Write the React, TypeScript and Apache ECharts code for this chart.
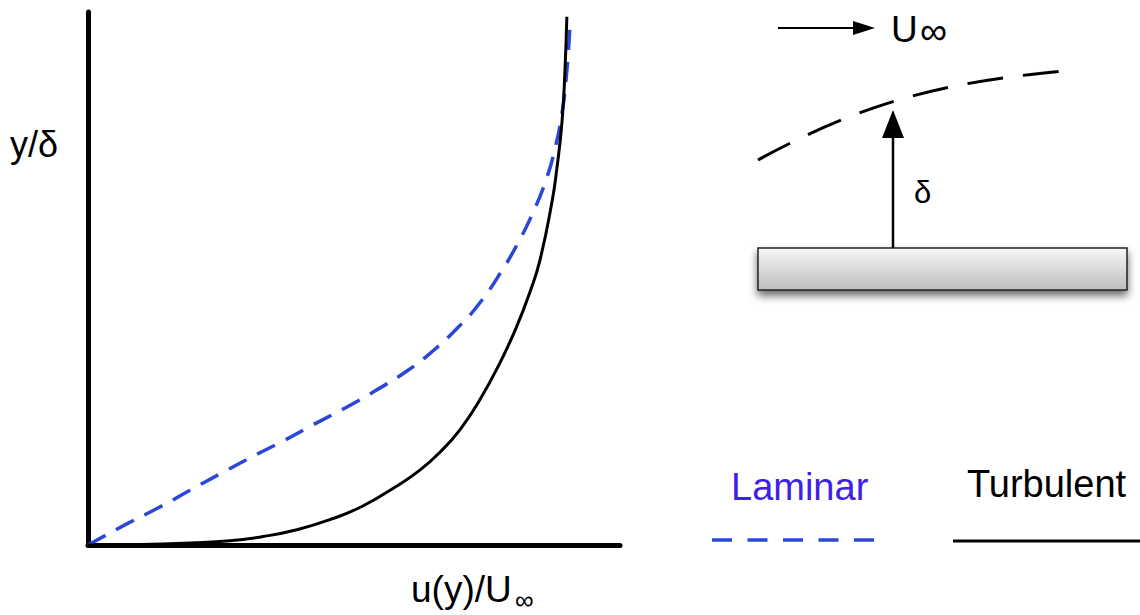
import React, { useEffect, useRef } from "react";
import * as echarts from "echarts";

// u/U∞ values (x) and y/δ values (y)
const turbulentX = [0, 0.109, 0.213, 0.296, 0.365, 0.436, 0.505, 0.574, 0.645, 0.693, 0.735, 0.777, 0.818, 0.86, 0.896, 0.923, 0.944, 0.969, 0.979, 0.99, 0.996, 1.0];
const turbulentY = [0, 0.001, 0.004, 0.008, 0.016, 0.029, 0.048, 0.074, 0.112, 0.142, 0.176, 0.219, 0.275, 0.345, 0.416, 0.48, 0.541, 0.651, 0.713, 0.804, 0.899, 1.002];

const laminarX = [0, 0.081, 0.15, 0.213, 0.28, 0.342, 0.407, 0.47, 0.537, 0.599, 0.666, 0.72, 0.772, 0.818, 0.864, 0.898, 0.929, 0.956, 0.975, 0.99, 1.0, 1.006];
const laminarY = [0, 0.04, 0.072, 0.104, 0.137, 0.167, 0.197, 0.228, 0.26, 0.292, 0.33, 0.368, 0.412, 0.459, 0.52, 0.573, 0.63, 0.691, 0.751, 0.82, 0.9, 0.977];

const xMax = 1.111;
const yMax = 1.011;

const labels = {
  yAxis: "y/δ",
  xAxis: "u(y)/U",
  inf: "∞",
  flow: "U",
  delta: "δ",
  laminar: "Laminar",
  turbulent: "Turbulent",
};

const FONT = "Liberation Sans, Arial, sans-serif";
const BLUE = "#2a47d8";

export default function App() {
  const ref = useRef<HTMLDivElement>(null);

  useEffect(() => {
    if (!ref.current) return;
    const chart = echarts.init(ref.current, null, { renderer: "svg" });
    const zip = (xs: number[], ys: number[]) => xs.map((x, i) => [x, ys[i]]);

    const axisCommon = {
      type: "value" as const,
      min: 0,
      axisLine: { show: true, onZero: false, lineStyle: { color: "#000", width: 5 } },
      axisTick: { show: false },
      axisLabel: { show: false },
      splitLine: { show: false },
    };

    chart.setOption({
      animation: false,
      backgroundColor: "#fff",
      grid: { left: 88, right: 520, top: 12, bottom: 70, containLabel: false },
      xAxis: { ...axisCommon, max: xMax },
      yAxis: { ...axisCommon, max: yMax },
      series: [
        {
          name: labels.laminar,
          type: "line",
          data: zip(laminarX, laminarY),
          smooth: 0.5,
          showSymbol: false,
          lineStyle: { color: BLUE, width: 3.5, type: [20, 12] },
          z: 3,
        },
        {
          name: labels.turbulent,
          type: "line",
          data: zip(turbulentX, turbulentY),
          smooth: 0.5,
          showSymbol: false,
          lineStyle: { color: "#000", width: 3 },
          z: 4,
        },
      ],
      graphic: [
        // axis titles
        { type: "text", x: 10, y: 144, style: { text: labels.yAxis, font: `36px ${FONT}`, fill: "#000", textVerticalAlign: "middle" } },
        { type: "text", x: 411, y: 589, style: { text: labels.xAxis, font: `37px ${FONT}`, fill: "#000", textVerticalAlign: "middle" } },
        { type: "text", x: 515, y: 600, style: { text: labels.inf, font: `26px ${FONT}`, fill: "#000", textVerticalAlign: "middle" } },

        // flow arrow
        { type: "line", shape: { x1: 778, y1: 28, x2: 856, y2: 28 }, style: { stroke: "#000", lineWidth: 2 } },
        { type: "polygon", shape: { points: [[853, 21], [853, 35], [875, 28]] }, style: { fill: "#000" } },
        { type: "text", x: 891, y: 29, style: { text: labels.flow, font: `37px ${FONT}`, fill: "#000", textVerticalAlign: "middle" } },
        { type: "text", x: 920, y: 31, style: { text: labels.inf, font: `38px ${FONT}`, fill: "#000", textVerticalAlign: "middle" } },

        // boundary layer edge
        {
          type: "bezierCurve",
          shape: { x1: 758, y1: 160, cpx1: 878, cpy1: 94, cpx2: 963, cpy2: 81, x2: 1063, y2: 71 },
          style: { stroke: "#000", lineWidth: 3, lineDash: [36, 20], fill: null },
        },

        // plate
        {
          type: "rect",
          shape: { x: 758, y: 248, width: 369, height: 42 },
          style: {
            fill: new echarts.graphic.LinearGradient(0, 0, 0, 1, [
              { offset: 0, color: "#f7f7f7" },
              { offset: 1, color: "#bdbdbd" },
            ]),
            stroke: "#222",
            lineWidth: 1.5,
            shadowBlur: 8,
            shadowOffsetY: 5,
            shadowColor: "rgba(0,0,0,0.6)",
          },
        },

        // delta arrow
        { type: "line", shape: { x1: 893, y1: 248, x2: 893, y2: 132 }, style: { stroke: "#000", lineWidth: 2.5 } },
        { type: "polygon", shape: { points: [[882, 138], [904, 138], [893, 110]] }, style: { fill: "#000" } },
        { type: "text", x: 914, y: 192, style: { text: labels.delta, font: `31px ${FONT}`, fill: "#000", textVerticalAlign: "middle" } },

        // legend
        { type: "text", x: 731, y: 487, style: { text: labels.laminar, font: `38px ${FONT}`, fill: "#3d22e6", textVerticalAlign: "middle" } },
        { type: "line", shape: { x1: 712, y1: 540, x2: 874, y2: 540 }, style: { stroke: BLUE, lineWidth: 3.5, lineDash: [20, 15.5] } },
        { type: "text", x: 967, y: 484, style: { text: labels.turbulent, font: `38px ${FONT}`, fill: "#000", textVerticalAlign: "middle" } },
        { type: "line", shape: { x1: 953, y1: 541, x2: 1140, y2: 541 }, style: { stroke: "#000", lineWidth: 3 } },
      ],
    });
    return () => chart.dispose();
  }, []);

  return (
    <div
      ref={ref}
      style={{ position: "fixed", left: 0, top: 0, width: 1140, height: 615, background: "#fff" }}
    />
  );
}
